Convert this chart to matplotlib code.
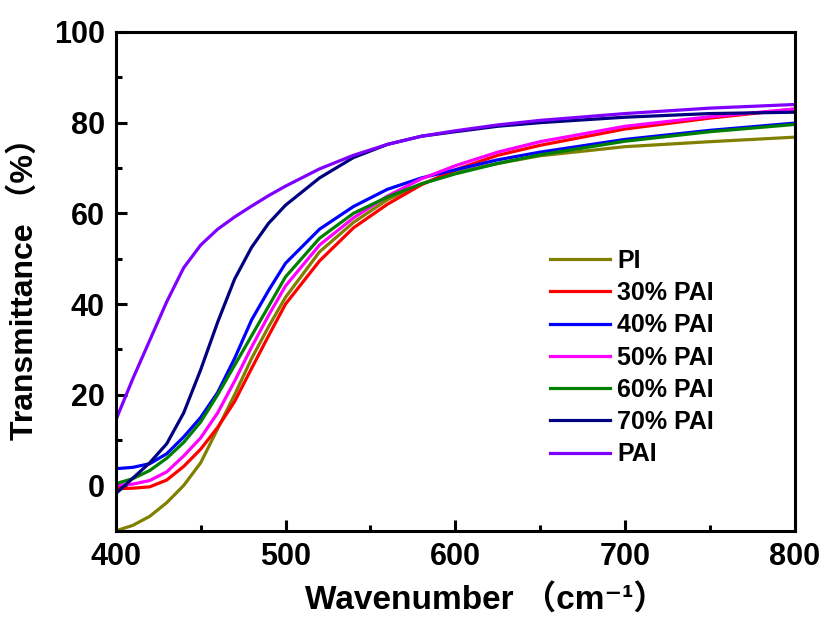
import numpy as np
import matplotlib
matplotlib.use("Agg")
import matplotlib.pyplot as plt

plt.rcParams['font.family'] = ['Liberation Sans', 'Noto Sans CJK SC', 'DejaVu Sans']
plt.rcParams['font.weight'] = 'bold'

# wavenumber points
wn = [400, 410, 420, 430, 440, 450, 460, 470, 480, 490, 500,
      520, 540, 560, 580, 600, 625, 650, 700, 750, 800]

pi = [-10, -8.8, -6.8, -3.8, 0, 5, 12.5, 20, 28, 35, 41.5,
      51.5, 58, 63, 66.5, 69, 71, 72.7, 74.7, 75.8, 76.8]
pai30 = [-0.7, -0.6, -0.3, 1.2, 4.2, 8, 12.8, 18.5, 25.8, 33, 40,
         49.5, 56.8, 62, 66.3, 69.6, 72.8, 75, 78.6, 81, 83]
pai40 = [3.7, 4, 4.8, 7, 10.7, 15, 20.5, 28, 36.5, 43, 49,
         56.5, 61.5, 65.3, 67.8, 69.6, 71.8, 73.5, 76.3, 78.3, 79.9]
pai50 = [0, 0.3, 1.1, 3, 6.5, 10.5, 16, 23, 30.5, 37.5, 44,
         53, 59, 63.8, 67.6, 70.5, 73.5, 75.8, 79.2, 81.3, 83]
pai60 = [0.4, 1.5, 3.3, 6, 9.5, 14, 20, 26.5, 33, 39.5, 46,
         54.5, 60, 63.6, 66.5, 68.7, 71, 72.9, 75.9, 78, 79.6]
pai70 = [-1.8, 1.6, 5, 9.2, 16, 25.5, 36, 45.5, 52.5, 57.8, 61.8,
         67.8, 72.3, 75.2, 77, 78, 79.2, 80, 81.2, 82, 82.3]
pai = [14.4, 23.5, 32, 40.5, 48, 53, 56.5, 59.2, 61.6, 63.9, 66,
       69.8, 72.8, 75.2, 77, 78.2, 79.5, 80.5, 82, 83.2, 84]

labels = ['PI', '30% PAI', '40% PAI', '50% PAI', '60% PAI', '70% PAI', 'PAI']
colors = ['#808000', '#ff0000', '#0000ff', '#ff00ff', '#008000', '#000080', '#8000ff']
series = [pi, pai30, pai40, pai50, pai60, pai70, pai]

fig = plt.figure(figsize=(8.27, 6.26), dpi=100)
ax = fig.add_axes([0.140, 0.152, 0.821, 0.797])

for y, c, lab in zip(series, colors, labels):
    ax.plot(wn, y, color=c, lw=2.3, label=lab, solid_joinstyle='round')

ax.set_xlim(400, 800)
ax.set_ylim(-10, 100)
ax.set_xticks([400, 500, 600, 700, 800])
ax.set_yticks([0, 20, 40, 60, 80, 100])
ax.set_xticks([450, 550, 650, 750], minor=True)
ax.set_yticks([-10, 10, 30, 50, 70, 90], minor=True)
ax.tick_params(which='both', direction='in', width=2.2, labelsize=22, pad=8)
ax.tick_params(which='major', length=8)
ax.tick_params(which='minor', length=4)
for s in ax.spines.values():
    s.set_linewidth(2.2)

ax.set_xlabel('Wavenumber （cm⁻¹）', fontsize=24, fontweight='bold')
ax.xaxis.set_label_coords(0.545, -0.105)
ax.set_ylabel('Transmittance （%）', fontsize=23, fontweight='bold', labelpad=10)

leg = ax.legend(loc='upper left', bbox_to_anchor=(0.639, 0.565), frameon=False,
                fontsize=18, borderpad=0, borderaxespad=0, labelspacing=0.33,
                handlelength=2.4, handletextpad=0.3)

fig.savefig('out.png', dpi=100)
